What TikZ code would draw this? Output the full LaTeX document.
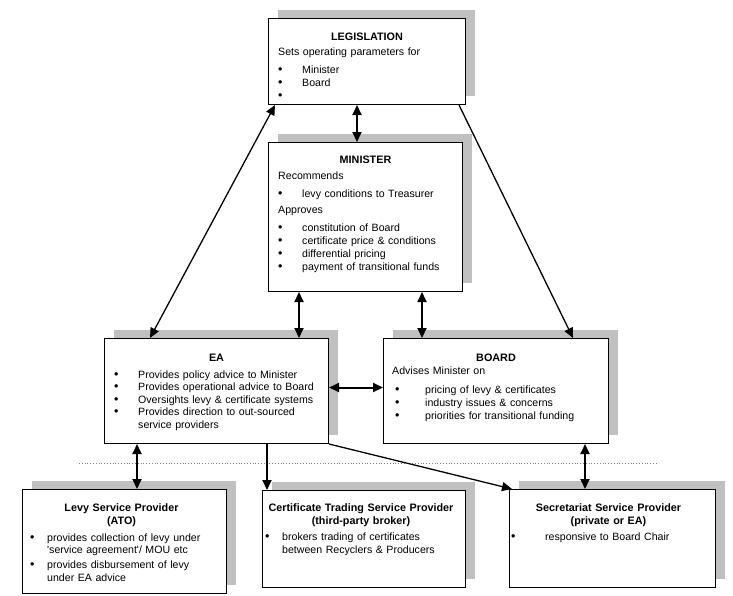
\documentclass[tikz,border=0pt]{standalone}
\usepackage{fontspec}
\setmainfont{Liberation Sans}
\usepackage{tikz}
\usetikzlibrary{arrows.meta,shadows}

\definecolor{shadowgray}{HTML}{C0C0C0}
\newcommand{\bul}[1]{\makebox[#1][l]{\fontsize{12.5}{12}\selectfont\textbullet}}

\begin{document}
\begin{tikzpicture}[x=1pt,y=-1pt,
  >={Triangle[length=10pt,width=9pt]},
  box/.style={draw,line width=1pt,fill=white,inner sep=0pt,anchor=north west,
    general shadow={fill=shadowgray,shadow xshift=9pt,shadow yshift=9pt}},
  boxtitle/.style={anchor=base,inner sep=0pt,text width=200pt,align=center,
    font=\fontsize{10.8}{13}\selectfont\bfseries},
  boxbody/.style={anchor=base west,inner sep=0pt,text width=215pt,align=left,
    font=\fontsize{10.6}{13}\selectfont},
  dbl/.style={<->,line width=2pt},
  slim/.style={line width=1.3pt}]
  \useasboundingbox (0,0) rectangle (733,595);
  % separator between policy and service levels
  \draw[gray,dotted,line width=0.8pt] (79,463) -- (657,463);
  % legislation
  \node[box,minimum width=197pt,minimum height=86pt] (leg) at (268,18) {};
  \node[boxtitle] (leg-t) at ([yshift=-22pt]leg.north) {LEGISLATION};
  \node[boxbody] (leg-b) at ([shift={(10pt,-37pt)}]leg.north west)
    {Sets operating parameters for\\[5pt]
     \bul{24pt}Minister\\ \bul{24pt}Board\\ \bul{24pt}};
  % minister
  \node[box,minimum width=194pt,minimum height=149pt] (min) at (268,142) {};
  \node[boxtitle] (min-t) at ([yshift=-21pt]min.north) {MINISTER};
  \node[boxbody] (min-b) at ([shift={(10pt,-37pt)}]min.north west)
    {Recommends\\[5pt]
     \bul{24pt}levy conditions to Treasurer\\[3pt]
     Approves\\[5pt]
     \bul{24pt}constitution of Board\\
     \bul{24pt}certificate price \& conditions\\
     \bul{24pt}differential pricing\\
     \bul{24pt}payment of transitional funds};
  % EA
  \node[box,minimum width=224pt,minimum height=105pt] (ea) at (104,338) {};
  \node[boxtitle] (ea-t) at ([yshift=-23pt]ea.north) {EA};
  \node[boxbody,font=\fontsize{10.6}{12.5}\selectfont] (ea-b)
    at ([shift={(10pt,-40pt)}]ea.north west)
    {\bul{24pt}Provides policy advice to Minister\\
     \bul{24pt}Provides operational advice to Board\\
     \bul{24pt}Oversights levy \& certificate systems\\
     \bul{24pt}Provides direction to out-sourced\\
     \hspace*{24pt}service providers};
  % board
  \node[box,minimum width=225pt,minimum height=105pt] (board) at (383,338) {};
  \node[boxtitle] (board-t) at ([yshift=-23pt]board.north) {BOARD};
  \node[boxbody] (board-b) at ([shift={(9pt,-36pt)}]board.north west)
    {Advises Minister on\\[6pt]
     \hspace*{3pt}\bul{30pt}pricing of levy \& certificates\\
     \hspace*{3pt}\bul{30pt}industry issues \& concerns\\
     \hspace*{3pt}\bul{30pt}priorities for transitional funding};
  % service providers
  \node[box,minimum width=204pt,minimum height=104pt] (levy) at (22,489) {};
  \node[boxtitle] (levy-t) at ([shift={(-3pt,-22pt)}]levy.north)
    {Levy Service Provider\\(ATO)};
  \node[boxbody,font=\fontsize{10.6}{12.5}\selectfont] (levy-b)
    at ([shift={(8pt,-52pt)}]levy.north west)
    {\bul{17pt}provides collection of levy under\\
     \hspace*{17pt}\textquotesingle service agreement\textquotesingle/ MOU etc\\[2.5pt]
     \bul{17pt}provides disbursement of levy\\
     \hspace*{17pt}under EA advice};
  \node[box,minimum width=203pt,minimum height=97pt] (cert) at (262,490) {};
  \node[boxtitle] (cert-t) at ([shift={(-3pt,-21pt)}]cert.north)
    {Certificate Trading Service Provider\\(third-party broker)};
  \node[boxbody] (cert-b) at ([shift={(3pt,-50pt)}]cert.north west)
    {\bul{17pt}brokers trading of certificates\\
     \hspace*{17pt}between Recyclers \& Producers};
  \node[box,minimum width=206pt,minimum height=98pt] (sec) at (509,489) {};
  \node[boxtitle] (sec-t) at ([shift={(-4pt,-22pt)}]sec.north)
    {Secretariat Service Provider\\(private or EA)};
  \node[boxbody] (sec-b) at ([shift={(2pt,-51pt)}]sec.north west)
    {\bul{34pt}responsive to Board Chair};
  % connectors
  \draw[dbl,slim] ([xshift=46pt]ea.north west) -- ([xshift=7pt]leg.south west);
  \draw[dbl] ([xshift=89pt]leg.south west) -- ([xshift=89pt]min.north west);
  \draw[->,slim] ([xshift=-7pt]leg.south east) -- ([xshift=-36pt]board.north east);
  \draw[dbl] ([xshift=31pt]min.south west) -- ([xshift=195pt]ea.north west);
  \draw[dbl] ([xshift=154pt]min.south west) -- ([xshift=39pt]board.north west);
  \draw[dbl] ([yshift=3.5pt]ea.east) -- ([yshift=3.5pt]board.west);
  \draw[dbl] ([xshift=33pt]ea.south west) -- ([xshift=115pt]levy.north west);
  \draw[->,line width=2pt] ([xshift=163pt]ea.south west) -- ([xshift=5pt]cert.north west);
  \draw[->,slim] (ea.south east) -- ([xshift=3pt]sec.north west);
  \draw[dbl] ([xshift=202pt]board.south west) -- ([xshift=76pt]sec.north west);
\end{tikzpicture}
\end{document}
